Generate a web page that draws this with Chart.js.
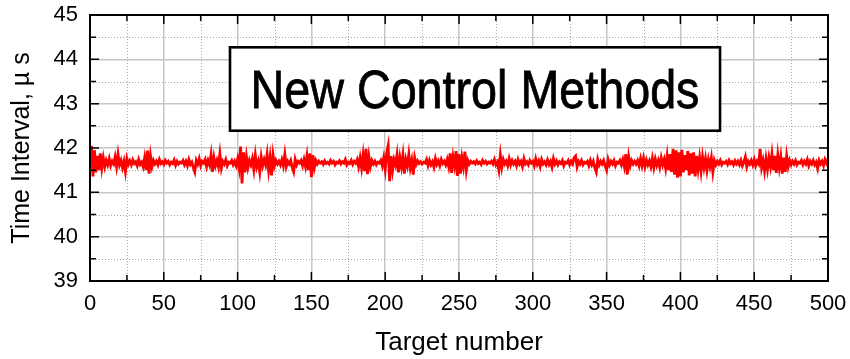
<!DOCTYPE html>
<html>
<head>
<meta charset="utf-8">
<script src="https://cdn.jsdelivr.net/npm/chart.js@4.4.1/dist/chart.umd.min.js"></script>
<style>
  body { margin: 0; background: #fff; }
</style>
</head>
<body>
<canvas id="myChart" width="850" height="359"></canvas>
<script>
// measured time interval (us) for target numbers 0..500
var timeInterval = [
  41.62, 42.05, 41.36, 41.95, 41.45, 41.82, 41.50, 41.88, 41.55, 41.78,
  41.58, 41.72, 41.62, 41.76, 41.60, 41.70, 41.64, 41.80, 41.58, 41.86,
  41.62, 41.72, 41.56, 41.70, 41.47, 41.76, 41.63, 41.71, 41.62, 41.73,
  41.65, 41.69, 41.60, 41.74, 41.63, 41.68, 41.58, 41.78, 41.50, 41.94,
  41.42, 41.82, 41.58, 41.72, 41.64, 41.70, 41.62, 41.74, 41.65, 41.69,
  41.63, 41.72, 41.66, 41.70, 41.62, 41.68, 41.65, 41.73, 41.61, 41.70,
  41.64, 41.68, 41.66, 41.72, 41.62, 41.70, 41.60, 41.74, 41.63, 41.68,
  41.56, 41.46, 41.72, 41.64, 41.76, 41.60, 41.70, 41.66, 41.74, 41.58,
  41.72, 41.62, 41.85, 41.46, 41.78, 41.60, 41.72, 41.58, 41.87, 41.55,
  41.70, 41.64, 41.74, 41.60, 41.68, 41.66, 41.72, 41.62, 41.70, 41.60,
  41.75, 41.55, 42.03, 41.20, 41.90, 41.45, 41.80, 41.56, 41.72, 41.62,
  41.76, 41.52, 41.84, 41.58, 41.70, 41.46, 41.80, 41.60, 41.74, 41.62,
  41.86, 41.50, 41.78, 41.38, 41.84, 41.60, 41.72, 41.64, 41.70, 41.62,
  41.74, 41.60, 41.86, 41.58, 41.70, 41.64, 41.72, 41.56, 41.46, 41.74,
  41.62, 41.70, 41.66, 41.72, 41.60, 41.74, 41.58, 41.82, 41.50, 41.88,
  41.34, 41.84, 41.56, 41.72, 41.64, 41.70, 41.66, 41.69, 41.63, 41.71,
  41.65, 41.68, 41.64, 41.72, 41.66, 41.70, 41.62, 41.68, 41.66, 41.71,
  41.64, 41.69, 41.66, 41.74, 41.62, 41.68, 41.65, 41.72, 41.63, 41.70,
  41.66, 41.74, 41.58, 41.78, 41.55, 41.84, 41.48, 41.98, 41.41, 41.80,
  41.58, 41.72, 41.64, 41.70, 41.62, 41.68, 41.66, 41.72, 41.60, 41.78,
  41.52, 41.88, 42.05, 41.25, 41.82, 41.50, 41.74, 41.62, 41.85, 41.45,
  41.78, 41.58, 41.84, 41.42, 41.74, 41.60, 41.86, 41.55, 41.72, 41.40,
  41.78, 41.63, 41.71, 41.65, 41.69, 41.64, 41.68, 41.66, 41.74, 41.60,
  41.72, 41.62, 41.69, 41.57, 41.76, 41.63, 41.71, 41.60, 41.74, 41.65,
  41.70, 41.62, 41.74, 41.58, 41.88, 41.44, 41.80, 41.60, 41.93, 41.37,
  41.86, 41.42, 41.78, 41.58, 41.92, 41.50, 41.72, 41.64, 41.70, 41.66,
  41.69, 41.64, 41.71, 41.65, 41.68, 41.63, 41.72, 41.66, 41.70, 41.64,
  41.68, 41.66, 41.70, 41.64, 41.74, 41.62, 41.68, 41.50, 41.84, 41.56,
  41.74, 41.64, 41.70, 41.60, 41.76, 41.62, 41.72, 41.64, 41.70, 41.60,
  41.74, 41.64, 41.70, 41.58, 41.76, 41.64, 41.69, 41.62, 41.72, 41.66,
  41.70, 41.60, 41.76, 41.63, 41.71, 41.58, 41.74, 41.64, 41.69, 41.62,
  41.73, 41.63, 41.70, 41.57, 41.76, 41.64, 41.71, 41.62, 41.69, 41.65,
  41.72, 41.60, 41.68, 41.66, 41.72, 41.62, 41.70, 41.64, 41.78, 41.82,
  41.58, 41.70, 41.64, 41.72, 41.62, 41.68, 41.66, 41.70, 41.60, 41.72,
  41.62, 41.70, 41.56, 41.46, 41.74, 41.62, 41.70, 41.64, 41.72, 41.60,
  41.50, 41.74, 41.62, 41.70, 41.64, 41.72, 41.60, 41.68, 41.66, 41.72,
  41.62, 41.74, 41.58, 41.86, 41.40, 41.80, 41.60, 41.72, 41.64, 41.70,
  41.64, 41.72, 41.60, 41.76, 41.60, 41.77, 41.58, 41.73, 41.62, 41.71,
  41.58, 41.77, 41.56, 41.75, 41.61, 41.72, 41.57, 41.78, 41.62, 41.74,
  41.54, 41.82, 41.50, 41.86, 41.46, 41.98, 41.40, 41.95, 41.33, 41.90,
  41.36, 41.96, 41.45, 41.84, 41.50, 41.93, 41.38, 41.88, 41.42, 41.90,
  41.36, 41.82, 41.52, 41.78, 41.48, 41.80, 41.56, 41.76, 41.50, 41.74,
  41.58, 41.78, 41.46, 41.72, 41.62, 41.70, 41.64, 41.72, 41.62, 41.68,
  41.66, 41.70, 41.63, 41.72, 41.65, 41.69, 41.62, 41.71, 41.64, 41.70,
  41.62, 41.72, 41.60, 41.68, 41.80, 41.58, 41.70, 41.64, 41.72, 41.62,
  41.74, 41.60, 41.70, 41.64, 41.98, 41.56, 41.72, 41.48, 41.76, 41.52,
  41.78, 41.58, 41.86, 41.50, 41.82, 41.44, 41.84, 41.56, 41.80, 41.42,
  41.78, 41.46, 41.82, 41.58, 41.72, 41.62, 41.70, 41.64, 41.72, 41.62,
  41.68, 41.66, 41.72, 41.62, 41.70, 41.64, 41.74, 41.60, 41.70, 41.64,
  41.72, 41.62, 41.68, 41.54, 41.72, 41.64, 41.70, 41.60, 41.74, 41.66,
  41.75
];
var xTicks = [0, 50, 100, 150, 200, 250, 300, 350, 400, 450, 500];
var xMinor = [25, 75, 125, 175, 225, 275, 325, 375, 425, 475];
var yTicks = [39, 40, 41, 42, 43, 44, 45];
var yMinor = [39.5, 40.5, 41.5, 42.5, 43.5, 44.5];
var boxText = 'New Control Methods';

var FONT = "'Liberation Sans', Arial, sans-serif";

var points = timeInterval.map(function (v, i) { return { x: i, y: v }; });

// dotted minor grid under the data
var minorGrid = {
    id: 'minorGrid',
    beforeDatasetsDraw: function (chart) {
        var ctx = chart.ctx, a = chart.chartArea;
        var xs = chart.scales.x, ys = chart.scales.y;
        ctx.save();
        ctx.strokeStyle = '#a8a8a8';
        ctx.lineWidth = 1;
        ctx.setLineDash([1, 2]);
        xMinor.forEach(function (v) {
            var px = Math.round(xs.getPixelForValue(v)) + 0.5;
            ctx.beginPath(); ctx.moveTo(px, a.top); ctx.lineTo(px, a.bottom); ctx.stroke();
        });
        yMinor.forEach(function (v) {
            var py = Math.round(ys.getPixelForValue(v)) + 0.5;
            ctx.beginPath(); ctx.moveTo(a.left, py); ctx.lineTo(a.right, py); ctx.stroke();
        });
        ctx.restore();
    }
};

// frame with inward ticks on all four sides
var frameTicks = {
    id: 'frameTicks',
    afterDatasetsDraw: function (chart) {
        var ctx = chart.ctx, a = chart.chartArea;
        var xs = chart.scales.x, ys = chart.scales.y;
        ctx.save();
        ctx.strokeStyle = '#000';
        ctx.lineWidth = 1.5;
        function tickX(v, len) {
            var px = xs.getPixelForValue(v);
            ctx.beginPath();
            ctx.moveTo(px, a.bottom); ctx.lineTo(px, a.bottom - len);
            ctx.moveTo(px, a.top); ctx.lineTo(px, a.top + len);
            ctx.stroke();
        }
        function tickY(v, len) {
            var py = ys.getPixelForValue(v);
            ctx.beginPath();
            ctx.moveTo(a.left, py); ctx.lineTo(a.left + len, py);
            ctx.moveTo(a.right, py); ctx.lineTo(a.right - len, py);
            ctx.stroke();
        }
        xTicks.forEach(function (v) { tickX(v, 9); });
        xMinor.forEach(function (v) { tickX(v, 6); });
        yTicks.forEach(function (v) { tickY(v, 9); });
        yMinor.forEach(function (v) { tickY(v, 6); });
        ctx.lineWidth = 2;
        ctx.strokeRect(a.left, a.top, a.right - a.left, a.bottom - a.top);
        ctx.restore();
    }
};

// label box inside the plot
var labelBox = {
    id: 'labelBox',
    afterDraw: function (chart) {
        var ctx = chart.ctx, a = chart.chartArea;
        var w = a.right - a.left, h = a.bottom - a.top;
        var bx = a.left + w * 0.1897, by = a.top + h * 0.1215;
        var bw = w * 0.664, bh = h * 0.3135;
        ctx.save();
        ctx.fillStyle = '#fff';
        ctx.fillRect(bx, by, bw, bh);
        ctx.strokeStyle = '#000';
        ctx.lineWidth = 2.6;
        ctx.strokeRect(bx, by, bw, bh);
        ctx.font = "53px 'Liberation Sans Narrow', 'Liberation Sans', Arial, sans-serif";
        ctx.fillStyle = '#000';
        ctx.strokeStyle = '#000';
        ctx.lineWidth = 0.8;
        ctx.textBaseline = 'alphabetic';
        var m = ctx.measureText(boxText);
        var ink = m.actualBoundingBoxRight + m.actualBoundingBoxLeft;
        var sx = 444 / ink;
        var cx = bx + bw / 2;
        ctx.translate(cx, by + 61);
        ctx.scale(sx, 1);
        ctx.textAlign = 'center';
        ctx.fillText(boxText, 0, 0);
        ctx.strokeText(boxText, 0, 0);
        ctx.restore();
    }
};

const ctx = document.getElementById('myChart');
new Chart(ctx, {
    type: 'line',
    data: {
        datasets: [{
            label: 'Time interval',
            data: points,
            borderColor: '#ff0000',
            borderWidth: 2.8,
            pointRadius: 0,
            tension: 0,
            fill: false
        }]
    },
    options: {
        responsive: false,
        animation: false,
        devicePixelRatio: 1,
        parsing: false,
        normalized: true,
        layout: { padding: { top: 15, right: 22, left: 0, bottom: 0 } },
        plugins: {
            legend: { display: false },
            tooltip: { enabled: false }
        },
        scales: {
            x: {
                type: 'linear',
                min: 0,
                max: 500,
                afterBuildTicks: function (s) { s.ticks = xTicks.map(function (v) { return { value: v }; }); },
                afterFit: function (s) {
                    s.height = 78;
                    s.paddingLeft = 0;
                    s.paddingRight = 0;
                },
                ticks: {
                    color: '#000',
                    font: { family: FONT, size: 22 },
                    padding: 10,
                    maxRotation: 0,
                    autoSkip: false
                },
                grid: { color: '#c6c6c6', lineWidth: 1.5, drawTicks: false },
                border: { display: false },
                title: {
                    display: true,
                    text: 'Target number',
                    color: '#000',
                    font: { family: FONT, size: 26 },
                    padding: { top: 0, bottom: 1 }
                }
            },
            y: {
                min: 39,
                max: 45,
                afterBuildTicks: function (s) { s.ticks = yTicks.map(function (v) { return { value: v }; }); },
                afterFit: function (s) {
                    s.width = 90;
                    s.paddingTop = 0;
                    s.paddingBottom = 0;
                },
                ticks: {
                    color: '#000',
                    font: { family: FONT, size: 22 },
                    padding: 12
                },
                grid: { color: '#c6c6c6', lineWidth: 1.5, drawTicks: false },
                border: { display: false },
                title: {
                    display: true,
                    text: 'Time Interval, µ s',
                    color: '#000',
                    font: { family: FONT, size: 25 },
                    padding: { top: 7, bottom: 0 }
                }
            }
        }
    },
    plugins: [minorGrid, frameTicks, labelBox]
});
</script>
</body>
</html>
